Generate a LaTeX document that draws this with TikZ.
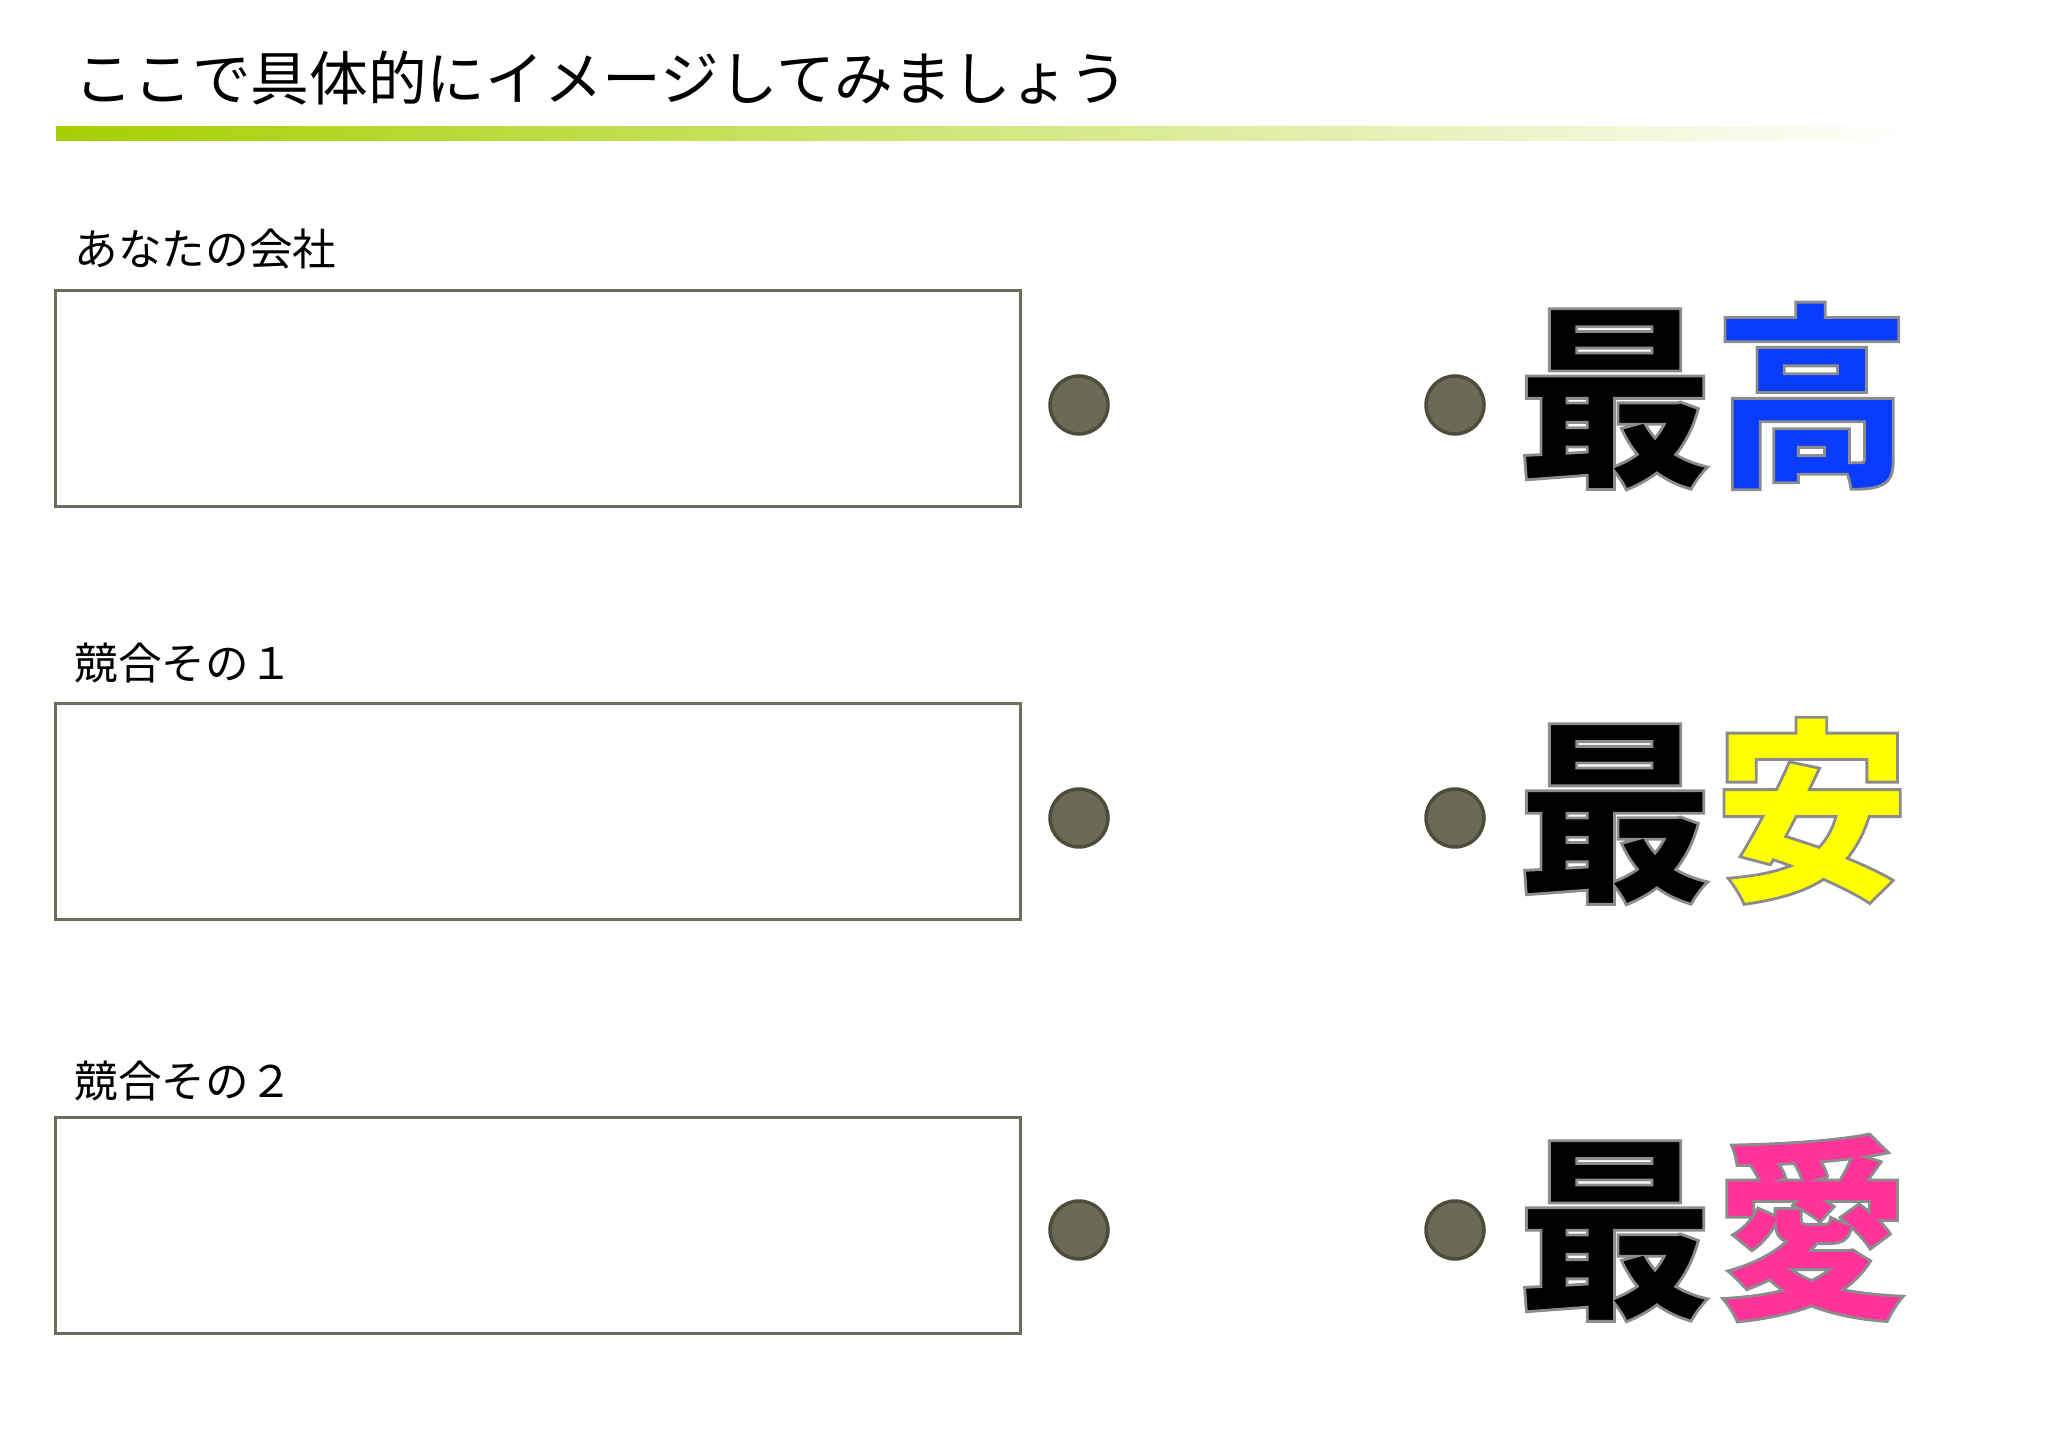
\documentclass[tikz,border=0pt]{standalone}
\usepackage{fontspec}
\newfontfamily\jpfont{Noto Sans CJK JP}
\usetikzlibrary{positioning}
\definecolor{boxline}{HTML}{6E6C58}
\definecolor{dotfill}{HTML}{6C6A56}
\definecolor{dotline}{HTML}{4E4C3A}
\definecolor{barlime}{HTML}{A6CF00}
\definecolor{topblue}{HTML}{0A3CFF}
\definecolor{midyellow}{HTML}{FFFF00}
\definecolor{lowpink}{HTML}{FF3399}
% gray rim round the big letters (fill and stroke text)
\newcommand\rimmed[1]{\special{pdf:literal direct 0.55 G 0.8 w 2 Tr}#1\special{pdf:literal direct 0 Tr}}
\tikzset{answer box/.style={rectangle,draw=boxline,line width=0.3mm,minimum width=96.5mm,minimum height=21.6mm,inner sep=0pt},
  box label/.style={font=\jpfont\fontsize{12.4pt}{14pt}\selectfont,inner sep=0pt,anchor=west},
  olive dot/.style={circle,draw=dotline,line width=0.35mm,fill=dotfill,minimum size=5.8mm,inner sep=0pt},
  big word/.style={font=\jpfont\bfseries\fontsize{56pt}{60pt}\selectfont,inner sep=0pt,anchor=west}}

\begin{document}
\begin{tikzpicture}[x=0.1mm,y=-0.1mm]
\useasboundingbox (0,0) rectangle (2048,1449);

% Title and the fading bar under it
\node[inner sep=0pt,anchor=west,font=\jpfont\fontsize{16.7pt}{19pt}\selectfont] (title) at (74,78) {ここで具体的にイメージしてみましょう};
\shade[left color=barlime,right color=white] (56,127) rectangle (1910,141);

% Three rows: box, dot, dot, word
\node[answer box] (box1) at (537.5,399) {};
\node[box label] (lab1) at (74,249) {あなたの会社};
\node[olive dot] (d11) at (1079,405) {};
\node[olive dot] (d12) at (1455,405) {};
\node[big word] (w1) at (1516,396) {\rimmed{最}{\color{topblue}\rimmed{高}}};

\node[answer box] (box2) at (537.5,811.5) {};
\node[box label] (lab2) at (74,663) {競合その１};
\node[olive dot] (d21) at (1079,818) {};
\node[olive dot] (d22) at (1455,818) {};
\node[big word] (w2) at (1516,811) {\rimmed{最}{\color{midyellow}\rimmed{安}}};

\node[answer box] (box3) at (537.5,1225) {};
\node[box label] (lab3) at (74,1081) {競合その２};
\node[olive dot] (d31) at (1079,1230) {};
\node[olive dot] (d32) at (1455,1230) {};
\node[big word] (w3) at (1516,1228) {\rimmed{最}{\color{lowpink}\rimmed{愛}}};

\end{tikzpicture}
\end{document}
